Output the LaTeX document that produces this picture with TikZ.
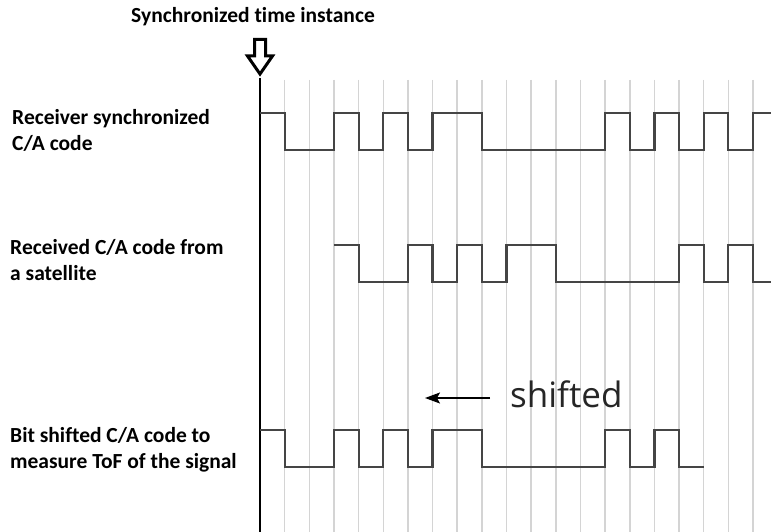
\documentclass[tikz,border=0pt]{standalone}
\usepackage{fontspec}
\setmainfont{Carlito}[Ligatures=NoCommon]
\newfontfamily\shiftfont{Open Sans}[Ligatures=NoCommon]
\usetikzlibrary{arrows.meta}

\begin{document}
\begin{tikzpicture}[x=1pt,y=-1pt,
    every node/.style={inner sep=0pt},
    lbl/.style={anchor=west,align=left,font=\bfseries\fontsize{21.5}{26}\selectfont},
    grid/.style={draw=black!17,line width=1.5pt},
    code/.style={draw=black!73,line width=2.2pt,line join=miter}]
  \useasboundingbox (0,0) rectangle (771,532);
  % title and hollow arrow at the synchronized instant
  \node[font=\bfseries\fontsize{21.5}{24}\selectfont] (title) at (253,17) {Synchronized time instance};
  \draw[line width=3pt,fill=white,line join=miter]
    (254.5,39.5)--(265.5,39.5)--(265.5,56)--(272.5,56)--(260,74)--(247.5,56)--(254.5,56)--cycle;
  % chip grid (one line per chip)
  \begin{scope}[x=24.65pt,xshift=260pt]
    \foreach \k in {1,...,20}
      \draw[grid] (\k,80) -- (\k,532);
    \draw[line width=2.5pt] (0,78) -- (0,532);
    % Row 1: receiver replica
    \draw[code] (0,113) -| (1,150) -| (3,113) -| (4,150) -| (5,113) -| (6,150)
      -| (7,113) -| (9,150) -| (14,113) -| (15,150) -| (16,113) -| (17,150)
      -| (18,113) -| (19,150) -| (20,113) -- (20.75,113);
    % Row 2: same code, delayed by three chips
    \draw[code] (3,245) -| (4,282) -| (6,245) -| (7,282) -| (8,245) -| (9,282)
      -| (10,245) -| (12,282) -| (17,245) -| (18,282) -| (19,245) -| (20,282) -- (20.75,282);
    % Row 3: replica shifted back
    \draw[code] (0,430) -| (1,467) -| (3,430) -| (4,467) -| (5,430) -| (6,467)
      -| (7,430) -| (9,467) -| (14,430) -| (15,467) -| (16,430) -| (17,467) -- (18,467);
  \end{scope}
  % shift arrow
  \node[font=\shiftfont\fontsize{35}{40}\selectfont,text=black!85,anchor=base west] (shifted) at (510,407) {shifted};
  \coordinate (shtail) at (490,398);
  \coordinate (shtip) at (425,398);
  \draw[line width=1.3pt,-{Stealth[length=15pt,width=11pt,inset=3pt]}] (shtail) -- (shtip);
  % row labels
  \node[lbl] (lblrx) at (12,130) {Receiver synchronized\\C/A code};
  \node[lbl] (lblsat) at (10,260) {Received C/A code from\\a satellite};
  \node[lbl] (lblbit) at (10,450) {Bit shifted C/A code to\\measure ToF of the signal};
\end{tikzpicture}
\end{document}
